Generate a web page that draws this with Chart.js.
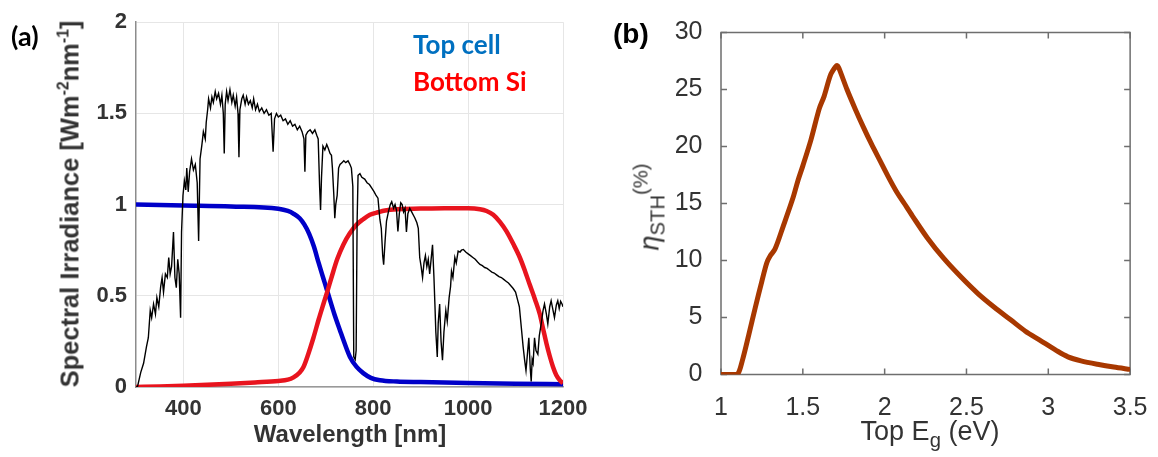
<!DOCTYPE html>
<html>
<head>
<meta charset="utf-8">
<script src="https://cdn.jsdelivr.net/npm/chart.js@4.4.1/dist/chart.umd.min.js"></script>
<style>
  body { margin: 0; background: #fff; }
  #wrap { position: relative; width: 1158px; height: 457px; overflow: hidden; font-family: "Liberation Sans", Arial, sans-serif; }
  #chartA { position: absolute; left: 0; top: 0; }
  #chartB { position: absolute; left: 580px; top: 0; }
  .lbl { position: absolute; white-space: nowrap; }
  .lbl sup, .lbl sub { line-height: 0; }
  #panelA { left: 11px; top: 22px; font: bold 27px Lato, sans-serif; color: #000; line-height: 27px; }
  #panelB { left: 613px; top: 20px; font: bold 28px "Liberation Sans", Arial, sans-serif; color: #000; line-height: 28px; }
  #legTop { left: 413px; top: 31px; font: bold 26px Lato, sans-serif; color: #0070C0; line-height: 26px; }
  #legBot { left: 413px; top: 68px; font: bold 26px Lato, sans-serif; color: #FF0000; line-height: 26px; }
  #xTitleA { left: 350px; top: 422px; transform: translateX(-50%); font-weight: bold; font-size: 24px; line-height: 24px; color: #333; }
  #yTitleA { left: 70px; top: 204px; transform: translate(-50%, -50%) rotate(-90deg); font-weight: bold; font-size: 25.5px; line-height: 25px; color: #333; }
  #yTitleA sup { font-size: 0.62em; vertical-align: 0.65em; }
  #xTitleB { left: 930px; top: 418px; transform: translateX(-50%); font-size: 27px; line-height: 27px; color: #333; }
  #xTitleB sub { font-size: 0.75em; vertical-align: -0.35em; }
  #yTitleB { left: 650px; top: 207px; transform: translate(-50%, -50%) rotate(-90deg); font-size: 27px; line-height: 27px; color: #333; }
  #yTitleB sub { font-size: 0.75em; vertical-align: -0.3em; }
  #yTitleB sup { font-size: 0.75em; vertical-align: 0.55em; }
</style>
</head>
<body>
<div id="wrap">
  <canvas id="chartA" width="600" height="457"></canvas>
  <canvas id="chartB" width="578" height="457"></canvas>
  <div class="lbl" id="panelA">(a)</div>
  <div class="lbl" id="panelB">(b)</div>
  <div class="lbl" id="legTop">Top cell</div>
  <div class="lbl" id="legBot">Bottom Si</div>
  <div class="lbl" id="xTitleA">Wavelength [nm]</div>
  <div class="lbl" id="yTitleA">Spectral Irradiance [Wm<sup>-2</sup>nm<sup>-1</sup>]</div>
  <div class="lbl" id="xTitleB">Top E<sub>g</sub> (eV)</div>
  <div class="lbl" id="yTitleB"><i>η</i><sub>STH</sub><sup>(%)</sup></div>
</div>
<script>
// ---- panel (a): AM1.5G spectrum and the two absorption curves ----
const specWl = [300,303,310,316,322,326,330,333,337,341,344,348,352,355,358,362,366,369,372,375,379,382,385,388,391,394,396,399,
  402,405,407,410,413,417,421,425,429,432,435,439,442,446,448,451,453,457,460,463,467,470,474,478,481,484,486,488,491,494,498,
  502,505,509,512,515,517,519,523,526,530,533,537,541,545,548,552,556,560,565,570,575,580,585,589,592,596,600,605,610,615,620,
  625,630,635,640,645,650,654,656,658,662,667,672,677,681,684,687,689,691,694,698,702,705,709,712,714,717,719,721,724,727,730,
  734,738,742,747,751,754,757,759,762,764,766,768,772,776,782,787,792,797,802,806,810,814,817,820,822,825,828,832,836,839,843,
  846,849,852,855,858,861,864,867,870,873,877,881,885,888,892,895,898,901,904,907,910,913,916,919,922,925,928,930,932,935,937,
  940,943,946,949,953,956,960,963,965,968,972,975,979,983,986,990,995,1000,1005,1010,1015,1020,1025,1030,1035,1040,1045,1050,
  1055,1060,1065,1070,1075,1080,1085,1090,1095,1100,1104,1108,1112,1116,1119,1122,1125,1128,1131,1133,1135,1137,1140,1143,1147,
  1150,1154,1158,1161,1165,1168,1172,1175,1179,1182,1186,1189,1192,1195,1198,1200];
const specVal = [0,0,0.08,0.13,0.22,0.27,0.42,0.38,0.455,0.40,0.49,0.44,0.55,0.60,0.52,0.62,0.60,0.71,0.62,0.66,0.85,0.60,0.545,0.70,0.62,0.38,0.85,1.05,
  1.13,1.08,1.20,1.07,1.18,1.25,1.19,1.22,1.12,0.80,1.25,1.33,1.40,1.36,1.45,1.52,1.58,1.53,1.59,1.56,1.62,1.58,1.61,1.55,1.60,1.50,1.28,1.55,1.62,1.57,1.63,
  1.56,1.60,1.54,1.59,1.50,1.26,1.52,1.58,1.60,1.55,1.59,1.55,1.57,1.53,1.58,1.52,1.55,1.51,1.53,1.50,1.52,1.49,1.50,1.29,1.47,1.50,1.48,1.49,1.46,1.47,1.44,
  1.46,1.43,1.44,1.41,1.43,1.40,1.36,1.18,1.38,1.40,1.41,1.39,1.41,1.38,1.36,1.10,0.97,1.15,1.32,1.30,1.33,1.31,1.28,1.27,1.20,1.05,0.925,1.00,1.05,1.20,1.22,
  1.23,1.24,1.23,1.24,1.22,1.20,1.10,0.165,0.15,0.20,0.90,1.16,1.17,1.15,1.14,1.12,1.11,1.09,1.07,1.05,1.035,0.92,0.87,0.72,0.67,0.80,0.91,0.96,1.00,1.016,0.98,
  1.00,0.97,0.853,0.95,1.01,1.00,0.96,0.98,0.85,0.95,0.98,0.96,0.94,0.925,0.90,0.87,0.71,0.66,0.60,0.68,0.72,0.66,0.70,0.62,0.70,0.78,0.60,0.455,0.30,0.165,0.35,
  0.455,0.25,0.147,0.30,0.42,0.36,0.49,0.55,0.635,0.60,0.71,0.68,0.745,0.74,0.75,0.754,0.74,0.73,0.72,0.71,0.70,0.685,0.672,0.665,0.655,0.65,0.64,0.63,
  0.625,0.615,0.605,0.60,0.59,0.58,0.57,0.555,0.54,0.52,0.48,0.44,0.33,0.22,0.15,0.09,0.18,0.27,0.10,0.03,0.15,0.13,0.27,0.20,0.18,
  0.28,0.346,0.42,0.455,0.40,0.346,0.44,0.473,0.42,0.38,0.45,0.473,0.43,0.47,0.455,0.44];

const topWl  = [300,400,500,600,620,632,645,655,665,675,685,695,705,718,730,741,751,765,779,795,814,850,900,1000,1100,1200];
const topVal = [1.0,0.995,0.99,0.977,0.965,0.95,0.925,0.89,0.84,0.77,0.68,0.595,0.51,0.40,0.31,0.23,0.165,0.11,0.076,0.05,0.037,0.03,0.027,0.022,0.018,0.015];

const botWl  = [300,350,400,450,500,551,600,620,632,645,653,663,674,685,695,704,712,724,737,750,765,779,793,810,825,850,900,950,1000,
  1025,1039,1053,1067,1081,1095,1109,1120,1130,1141,1151,1158,1165,1172,1179,1186,1193,1200];
const botVal = [0,0.003,0.007,0.012,0.018,0.025,0.033,0.04,0.053,0.08,0.11,0.18,0.27,0.37,0.455,0.53,0.60,0.70,0.78,0.84,0.89,0.92,0.944,0.958,0.968,0.975,0.978,0.98,0.98,
  0.975,0.965,0.944,0.905,0.853,0.785,0.71,0.635,0.56,0.48,0.40,0.32,0.24,0.17,0.11,0.065,0.038,0.02];

const xTicksA = [400, 600, 800, 1000, 1200];
const yTicksA = [0, 0.5, 1, 1.5, 2];

// ---- panel (b): STH efficiency vs top-cell band gap ----
const egVals  = [1.0,1.05,1.1,1.13,1.17,1.21,1.25,1.28,1.3,1.33,1.38,1.44,1.47,1.5,1.55,1.6,1.63,1.67,1.7,1.71,1.72,1.77,1.82,1.87,1.92,1.97,
  2.02,2.07,2.12,2.17,2.26,2.36,2.47,2.57,2.67,2.77,2.86,2.95,3.05,3.12,3.2,3.3,3.4,3.5];
const sthVals = [0,0,0,1.2,3.5,5.9,8.2,9.8,10.4,11.0,13.0,15.5,17.0,18.3,20.6,23.3,24.4,26.3,27.0,27.1,26.9,25.0,23.3,21.7,20.2,18.8,
  17.4,16.1,15.0,13.9,12.0,10.2,8.5,7.1,5.9,4.8,3.8,3.0,2.1,1.55,1.2,0.9,0.65,0.45];

const xTicksB = [1, 1.5, 2, 2.5, 3, 3.5];
const yTicksB = [0, 5, 10, 15, 20, 25, 30];

function pts(xs, ys) {
    return xs.map((x, i) => ({ x: x, y: ys[i] }));
}
// plain labels like MATLAB: 1, 1.5, 1000 (no locale commas, no trailing .0)
const plain = v => String(v);

const fontA = { family: '"Liberation Sans", Arial, sans-serif', size: 22, weight: 'bold' };
const fontB = { family: '"Liberation Sans", Arial, sans-serif', size: 25 };

new Chart(document.getElementById('chartA'), {
    type: 'line',
    data: {
        datasets: [
            { data: pts(specWl, specVal), borderColor: '#000', borderWidth: 1.4, pointRadius: 0, tension: 0 },
            { data: pts(botWl, botVal), borderColor: '#E8141E', borderWidth: 4.5, pointRadius: 0, cubicInterpolationMode: 'monotone' },
            { data: pts(topWl, topVal), borderColor: '#0000C8', borderWidth: 4.5, pointRadius: 0, cubicInterpolationMode: 'monotone' }
        ]
    },
    options: {
        responsive: false,
        animation: false,
        layout: { autoPadding: false, padding: { left: 0, top: 19, right: 37, bottom: 0 } },
        plugins: { legend: { display: false }, tooltip: { enabled: false } },
        scales: {
            x: {
                type: 'linear', min: 300, max: 1200,
                afterBuildTicks: s => { s.ticks = xTicksA.map(v => ({ value: v })); },
                afterFit: s => { s.height = 70; },
                grid: { color: '#e6e6e6', drawTicks: false },
                border: { color: '#999', width: 1.5 },
                ticks: { padding: 9, color: '#333', font: fontA, maxRotation: 0, callback: plain }
            },
            y: {
                min: 0, max: 2,
                afterBuildTicks: s => { s.ticks = yTicksA.map(v => ({ value: v })); },
                afterFit: s => { s.width = 136; },
                grid: { color: '#e6e6e6', drawTicks: false },
                border: { color: '#8c8c8c', width: 1.5 },
                ticks: { padding: 9, color: '#333', font: fontA, callback: plain }
            }
        }
    }
});

// MATLAB-like box with inward ticks on all four sides
const boxTicks = {
    id: 'boxTicks',
    beforeDatasetsDraw(chart) {
        const { ctx, chartArea: a, scales } = chart;
        ctx.save();
        ctx.strokeStyle = '#6e6e6e';
        ctx.lineWidth = 1.5;
        ctx.strokeRect(a.left, a.top, a.right - a.left, a.bottom - a.top);
        ctx.beginPath();
        xTicksB.forEach(v => {
            const px = scales.x.getPixelForValue(v);
            ctx.moveTo(px, a.bottom); ctx.lineTo(px, a.bottom - 6);
            ctx.moveTo(px, a.top); ctx.lineTo(px, a.top + 6);
        });
        yTicksB.forEach(v => {
            const py = scales.y.getPixelForValue(v);
            ctx.moveTo(a.left, py); ctx.lineTo(a.left + 6, py);
            ctx.moveTo(a.right, py); ctx.lineTo(a.right - 6, py);
        });
        ctx.stroke();
        ctx.restore();
    }
};

new Chart(document.getElementById('chartB'), {
    type: 'line',
    data: {
        datasets: [
            { data: pts(egVals, sthVals), borderColor: '#A83800', borderWidth: 5, pointRadius: 0, tension: 0.3, borderJoinStyle: 'round' }
        ]
    },
    options: {
        responsive: false,
        animation: false,
        layout: { autoPadding: false, padding: { left: 0, top: 32.5, right: 18, bottom: 0 } },
        plugins: { legend: { display: false }, tooltip: { enabled: false } },
        scales: {
            x: {
                type: 'linear', min: 1, max: 3.5,
                afterBuildTicks: s => { s.ticks = xTicksB.map(v => ({ value: v })); },
                afterFit: s => { s.height = 82.5; },
                grid: { display: false },
                border: { display: false },
                ticks: { padding: 10.5, color: '#333', font: fontB, maxRotation: 0, callback: plain }
            },
            y: {
                min: 0, max: 30,
                afterBuildTicks: s => { s.ticks = yTicksB.map(v => ({ value: v })); },
                afterFit: s => { s.width = 141; },
                grid: { display: false },
                border: { display: false },
                ticks: { padding: 10.5, color: '#333', font: fontB, callback: plain }
            }
        }
    },
    plugins: [boxTicks]
});
</script>
</body>
</html>
